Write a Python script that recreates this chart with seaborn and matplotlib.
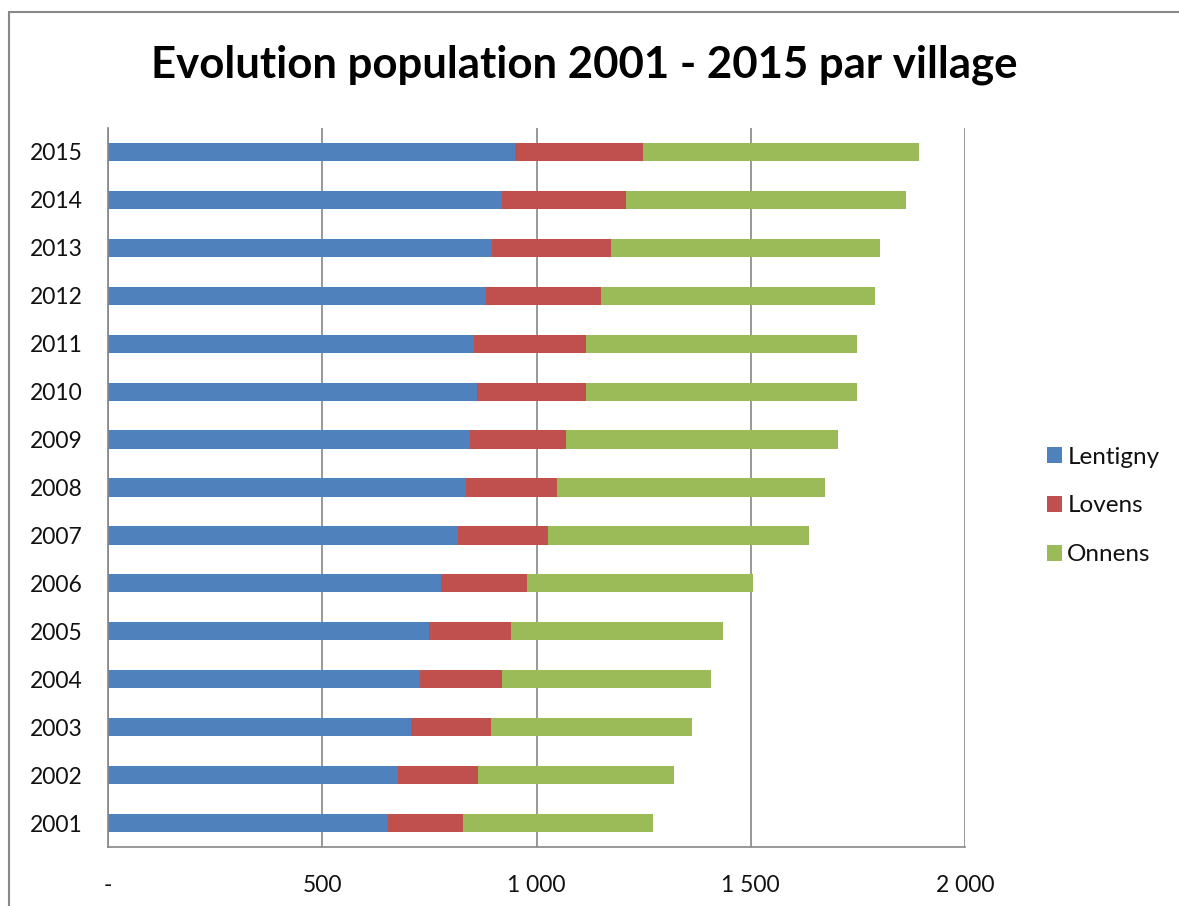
import matplotlib
matplotlib.use("Agg")
import matplotlib.pyplot as plt
import seaborn as sns
import pandas as pd
from matplotlib.lines import Line2D
from matplotlib.patches import Patch
from matplotlib.ticker import FixedLocator, FuncFormatter

years = ["2001", "2002", "2003", "2004", "2005", "2006", "2007", "2008",
         "2009", "2010", "2011", "2012", "2013", "2014", "2015"]
lentigny = [653, 677, 707, 728, 749, 777, 817, 835, 845, 861, 854, 882, 896, 919, 950]
lovens = [175, 186, 187, 191, 191, 201, 210, 213, 224, 254, 261, 268, 278, 290, 298]
onnens = [444, 458, 469, 488, 495, 527, 609, 625, 634, 633, 633, 640, 627, 653, 644]
series_names = ["Lentigny", "Lovens", "Onnens"]
colors = ["#4F81BD", "#C0504D", "#9BBB59"]
title = "Evolution population 2001 - 2015 par village"

df = pd.DataFrame({"year": years, "Lentigny": lentigny, "Lovens": lovens, "Onnens": onnens})
df["c1"] = df["Lentigny"]
df["c2"] = df["c1"] + df["Lovens"]
df["c3"] = df["c2"] + df["Onnens"]
order = years[::-1]

sns.set_theme(style="white")
plt.rcParams["font.family"] = ["Lato", "DejaVu Sans"]

W, H = 1179, 906
fig = plt.figure(figsize=(W / 100, H / 100), dpi=100)
ax = fig.add_axes([108 / W, 1 - 847 / H, (965 - 108) / W, (847 - 128) / H])

bw = 0.38
for col, c in zip(["c3", "c2", "c1"], colors[::-1]):
    sns.barplot(data=df, x=col, y="year", order=order, orient="h", color=c,
                width=bw, saturation=1, ax=ax, linewidth=0)

ax.set_xlim(0, 2000)
ax.set_ylim(14.5, -0.5)
ax.xaxis.set_major_locator(FixedLocator([0, 500, 1000, 1500, 2000]))
def fmt(v, p):
    if v == 0:
        return "-"
    return f"{int(v):,}".replace(",", " ")
ax.xaxis.set_major_formatter(FuncFormatter(fmt))
ax.grid(axis="x", color="#868686", linewidth=1.2)
ax.set_axisbelow(True)
ax.spines["top"].set_visible(False)
ax.spines["right"].set_visible(False)
for s in ["left", "bottom"]:
    ax.spines[s].set_color("#868686")
    ax.spines[s].set_linewidth(1.2)
ax.set_xlabel("")
ax.set_ylabel("")
ax.tick_params(axis="x", length=0, pad=20, labelsize=16.5, labelcolor="#111111")
ax.tick_params(axis="y", length=0, pad=18.5, labelsize=16.5, labelcolor="#111111")

handles = [Patch(facecolor=c, edgecolor="none", label=n) for n, c in zip(series_names, colors)]
fig.legend(handles=handles, loc="center left", bbox_to_anchor=(1025 / W, 1 - 506 / H),
           frameon=False, fontsize=17.5, handlelength=0.62, handleheight=0.62,
           handletextpad=0.22, labelspacing=1.15, labelcolor="#111111")

fig.text(584 / W, 1 - 65 / H, title, ha="center", va="center", fontsize=31.5,
         fontweight="bold", color="black")

fx = 9.5 / W
fy = 1 - 12 / H
fig.add_artist(Line2D([fx, fx], [0, fy], transform=fig.transFigure, color="#888888", linewidth=1.5))
fig.add_artist(Line2D([fx, 1], [fy, fy], transform=fig.transFigure, color="#888888", linewidth=1.5))

fig.savefig("out.png", dpi=100)
